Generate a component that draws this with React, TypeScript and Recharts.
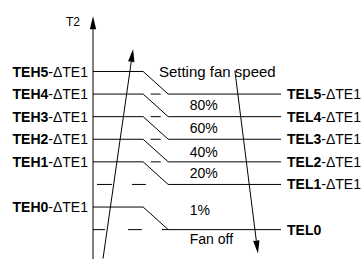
import React from "react";
import {
  ComposedChart,
  ReferenceDot,
  ReferenceLine,
  Scatter,
  XAxis,
  YAxis,
} from "recharts";

// Fan-speed hysteresis schematic. The T2 axis is in "level" units:
// 0 = TEL0, 1 = TEH0, 2 = TEL1, 3 = TEH1/TEL2 ... 7 = TEH5.
const LEFT_LEVELS = [7, 6, 5, 4, 3, 1];
const LEFT_NAMES = ["TEH5", "TEH4", "TEH3", "TEH2", "TEH1", "TEH0"];
const RIGHT_LEVELS = [6, 5, 4, 3, 2, 0];
const RIGHT_NAMES = ["TEL5", "TEL4", "TEL3", "TEL2", "TEL1", "TEL0"];
const RIGHT_SUFFIX = [true, true, true, true, true, false];
const SUFFIX = "-\u0394TE1";

// speed band captions
const CAPTIONS = ["Setting fan speed", "80%", "60%", "40%", "20%", "1%", "Fan off"];
const CAPTION_LEVEL = [7, 5.5, 4.5, 3.45, 2.5, 0.85, -0.4];
const CAPTION_X = [26.3, 38.6, 38.6, 38.6, 38.6, 38.6, 38.6];

const AXIS_TITLE = "T2";
const AXIS_TITLE_LEVEL = 9.2;

// horizontal extent: knee of each step, end of the drop, end of line
const KNEE = 20;
const DROP = 30;
const LINE_END = 75;

// dashed pieces of the held levels: [level, from, to]
const DASHES: [number, number, number][] = [
  [6, 23, 27],
  [5, 23, 27],
  [4, 23, 27],
  [3, 23, 27],
  [2, 1.6, 7.6],
  [2, 15.6, 21.1],
  [0, 0, 4.8],
  [0, 14, 19.5],
];
// TEL0 line starts a bit earlier than the others
const TEL_START = [DROP, DROP, DROP, DROP, DROP, 27.5];

// arrows: [x, level] start -> end
const AXIS_ARROW = [[0, -1.3], [0, 9.45]];
const RISE_ARROW = [[4, -1.28], [16, 8.0]];
const FALL_ARROW = [[56.6, 7.04], [65.8, -1.06]];

const FONT = "'Liberation Sans', Arial, Helvetica, sans-serif";
const INK = "#000";

const captionData = CAPTIONS.map((t, i) => ({
  x: CAPTION_X[i],
  y: CAPTION_LEVEL[i],
  t,
}));

function arrowShape(props: any) {
  const { x1, y1, x2, y2 } = props;
  const dx = x2 - x1;
  const dy = y2 - y1;
  const len = Math.hypot(dx, dy) || 1;
  const ux = dx / len;
  const uy = dy / len;
  const headLen = 13;
  const half = 3.2;
  const bx = x2 - ux * headLen;
  const by = y2 - uy * headLen;
  const px = -uy * half;
  const py = ux * half;
  return (
    <g>
      <line x1={x1} y1={y1} x2={bx} y2={by} stroke={INK} strokeWidth={1} />
      <polygon
        points={`${x2},${y2} ${bx + px},${by + py} ${bx - px},${by - py}`}
        fill={INK}
      />
    </g>
  );
}

function LeftTick(props: any) {
  const { x, y, payload } = props;
  const i = LEFT_LEVELS.indexOf(payload.value);
  if (i < 0) return null;
  return (
    <text x={x} y={y} dy="0.36em" textAnchor="end" fontSize={14} fontFamily={FONT} fill={INK}>
      <tspan fontWeight="bold">{LEFT_NAMES[i]}</tspan>
      <tspan>{SUFFIX}</tspan>
    </text>
  );
}

function RightTick(props: any) {
  const { x, y, payload } = props;
  const i = RIGHT_LEVELS.indexOf(payload.value);
  if (i < 0) return null;
  return (
    <text x={x} y={y} dy="0.36em" textAnchor="start" fontSize={14} fontFamily={FONT} fill={INK}>
      <tspan fontWeight="bold">{RIGHT_NAMES[i]}</tspan>
      {RIGHT_SUFFIX[i] && <tspan>{SUFFIX}</tspan>}
    </text>
  );
}

function CaptionShape(props: any) {
  const { cx, cy, payload } = props;
  // the long caption is set a touch wider in the original
  const size = payload.t.length > 8 ? 15 : 14;
  return (
    <text x={cx} y={cy} dy="0.36em" textAnchor="start" fontSize={size} fontFamily={FONT} fill={INK}>
      {payload.t}
    </text>
  );
}

function TitleShape(props: any) {
  const { cx, cy } = props;
  return (
    <text x={cx - 13} y={cy} dy="0.36em" textAnchor="end" fontSize={12} fontFamily={FONT} fill={INK}>
      {AXIS_TITLE}
    </text>
  );
}

const seg = (x1: number, y1: number, x2: number, y2: number) => [
  { x: x1, y: y1 },
  { x: x2, y: y2 },
];

export default function App() {
  return (
    <div style={{ position: "absolute", left: 0, top: 0, width: 364, height: 260, background: "#fff" }}>
      <ComposedChart
        width={364}
        height={260}
        data={captionData}
        margin={{ top: 15, right: 0, bottom: 1, left: 0 }}
      >
        <XAxis type="number" dataKey="x" domain={[0, LINE_END]} allowDataOverflow hide />
        <YAxis
          yAxisId="l"
          type="number"
          dataKey="y"
          domain={[-1.3, 9.5]}
          allowDataOverflow
          ticks={LEFT_LEVELS}
          interval={0}
          width={93}
          axisLine={false}
          tickLine={false}
          tickSize={0}
          tickMargin={5}
          tick={<LeftTick />}
        />
        <YAxis
          yAxisId="r"
          orientation="right"
          type="number"
          domain={[-1.3, 9.5]}
          allowDataOverflow
          ticks={RIGHT_LEVELS}
          interval={0}
          width={83}
          axisLine={false}
          tickLine={false}
          tickSize={0}
          tickMargin={6}
          tick={<RightTick />}
        />

        {/* TEH plateaus and the drop to the next level */}
        {LEFT_LEVELS.map((lv) => (
          <ReferenceLine
            key={`teh-${lv}`}
            yAxisId="l"
            ifOverflow="visible"
            segment={seg(0, lv, KNEE, lv)}
            stroke={INK}
            strokeWidth={1}
          />
        ))}
        {LEFT_LEVELS.map((lv) => (
          <ReferenceLine
            key={`drop-${lv}`}
            yAxisId="l"
            ifOverflow="visible"
            segment={seg(KNEE, lv, DROP, lv - 1)}
            stroke={INK}
            strokeWidth={1}
          />
        ))}
        {/* TEL lines running to the right-hand labels */}
        {RIGHT_LEVELS.map((lv, i) => (
          <ReferenceLine
            key={`tel-${lv}`}
            yAxisId="l"
            ifOverflow="visible"
            segment={seg(TEL_START[i], lv, LINE_END, lv)}
            stroke={INK}
            strokeWidth={1}
          />
        ))}
        {DASHES.map(([lv, a, b], i) => (
          <ReferenceLine
            key={`dash-${i}`}
            yAxisId="l"
            ifOverflow="visible"
            segment={seg(a, lv, b, lv)}
            stroke={INK}
            strokeWidth={1}
          />
        ))}

        {/* axis and direction arrows */}
        {[AXIS_ARROW, RISE_ARROW, FALL_ARROW].map((a, i) => (
          <ReferenceLine
            key={`arrow-${i}`}
            yAxisId="l"
            ifOverflow="visible"
            segment={seg(a[0][0], a[0][1], a[1][0], a[1][1])}
            shape={arrowShape}
          />
        ))}

        <ReferenceDot
          yAxisId="l"
          x={0}
          y={AXIS_TITLE_LEVEL}
          r={0}
          ifOverflow="visible"
          shape={TitleShape}
        />

        <Scatter
          yAxisId="l"
          dataKey="y"
          isAnimationActive={false}
          shape={<CaptionShape />}
        />
      </ComposedChart>
    </div>
  );
}
